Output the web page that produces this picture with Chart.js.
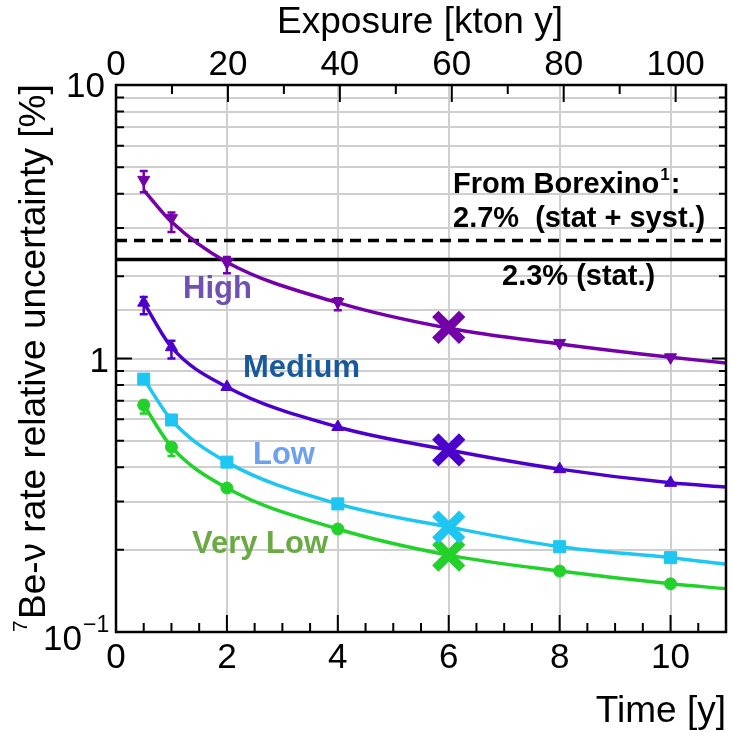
<!DOCTYPE html>
<html><head><meta charset="utf-8">
<script src="https://cdn.jsdelivr.net/npm/chart.js@4.4.1/dist/chart.umd.min.js"></script>
<style>html,body{margin:0;padding:0;background:#fff;}#wrap{width:732px;height:732px;}</style>
</head><body><div id="wrap"><canvas id="c" width="732" height="732"></canvas></div>
<script>
// ---- data ----
const timeYears = [0.5, 1, 2, 4, 8, 10];
const highValues = [4.5, 3.26, 2.25, 1.61, 1.14, 1.01];
const mediumValues = [1.60, 1.10, 0.787, 0.562, 0.394, 0.351];
const lowValues = [0.841, 0.596, 0.418, 0.294, 0.205, 0.187];
const veryLowValues = [0.676, 0.475, 0.336, 0.238, 0.167, 0.150];

const highErrLow = [4.05, 2.90, 2.05, 1.50, null, null];
const highErrHigh = [4.85, 3.42, 2.35, 1.66, null, null];
const mediumErrLow = [1.45, 1.00, null, null, null, null];
const mediumErrHigh = [1.68, 1.16, null, null, null, null];
const veryLowErrLow = [0.63, 0.44, null, null, null, null];
const veryLowErrHigh = [0.70, 0.49, null, null, null, null];

const fitTimes = [0.5, 1, 2, 4, 6, 8, 10, 11];
const highFit = [4.13, 3.16, 2.25, 1.60, 1.29, 1.13, 1.01, 0.963];
const mediumFit = [1.60, 1.10, 0.787, 0.562, 0.463, 0.394, 0.351, 0.339];
const lowFit = [0.841, 0.596, 0.418, 0.294, 0.242, 0.205, 0.187, 0.177];
const veryLowFit = [0.676, 0.475, 0.336, 0.238, 0.191, 0.167, 0.150, 0.144];

const crossTime = [6];
const crossHigh = [1.30];
const crossMedium = [0.463];
const crossLow = [0.242];
const crossVeryLow = [0.191];

const lineSpan = [0, 11];
const borexinoTotal = 2.7;
const borexinoStat = 2.3;

const timeTicks = [0, 2, 4, 6, 8, 10];
const timeTickLabels = ['0', '2', '4', '6', '8', '10'];
const exposureTicks = [0, 20, 40, 60, 80, 100];
const exposureTickLabels = ['0', '20', '40', '60', '80', '100'];

// ---- styling ----
const FONT = '"Liberation Sans", Arial, sans-serif';
const C_HIGH = '#7400a8', C_MED = '#4c00cc', C_LOW = '#1ec6f2', C_VLOW = '#22d22a';

const pts = (xs, ys) => xs.map((x, i) => ({x: x, y: ys[i]}));

const crossStyle = {pointStyle: 'crossRot', pointRadius: 19, pointBorderWidth: 9, showLine: false, order: 1};
const datasets = [
  Object.assign({label: 'X high', data: pts(crossTime, crossHigh), borderColor: C_HIGH}, crossStyle),
  Object.assign({label: 'X med', data: pts(crossTime, crossMedium), borderColor: C_MED}, crossStyle),
  Object.assign({label: 'X low', data: pts(crossTime, crossLow), borderColor: C_LOW}, crossStyle),
  Object.assign({label: 'X vlow', data: pts(crossTime, crossVeryLow), borderColor: C_VLOW}, crossStyle),
  {label: 'High', data: pts(timeYears, highValues), pointStyle: 'triangle', rotation: 180, pointRadius: 7, backgroundColor: C_HIGH, borderColor: C_HIGH, showLine: false, order: 2},
  {label: 'Medium', data: pts(timeYears, mediumValues), pointStyle: 'triangle', pointRadius: 7, backgroundColor: C_MED, borderColor: C_MED, showLine: false, order: 2},
  {label: 'Low', data: pts(timeYears, lowValues), pointStyle: 'rect', pointRadius: 8.5, backgroundColor: C_LOW, borderColor: C_LOW, showLine: false, order: 2},
  {label: 'Very Low', data: pts(timeYears, veryLowValues), pointStyle: 'circle', pointRadius: 6, backgroundColor: C_VLOW, borderColor: C_VLOW, showLine: false, order: 2},
  {label: 'High fit', data: pts(fitTimes, highFit), showLine: true, borderColor: C_HIGH, borderWidth: 3.5, pointRadius: 0, cubicInterpolationMode: 'monotone', order: 3},
  {label: 'Medium fit', data: pts(fitTimes, mediumFit), showLine: true, borderColor: C_MED, borderWidth: 3.5, pointRadius: 0, cubicInterpolationMode: 'monotone', order: 3},
  {label: 'Low fit', data: pts(fitTimes, lowFit), showLine: true, borderColor: C_LOW, borderWidth: 3.5, pointRadius: 0, cubicInterpolationMode: 'monotone', order: 3},
  {label: 'Very Low fit', data: pts(fitTimes, veryLowFit), showLine: true, borderColor: C_VLOW, borderWidth: 3.5, pointRadius: 0, cubicInterpolationMode: 'monotone', order: 3},
  {label: 'Borexino total', data: pts(lineSpan, [borexinoTotal, borexinoTotal]), showLine: true, borderColor: '#000', borderWidth: 3.5, borderDash: [11, 7], pointRadius: 0, order: 4},
  {label: 'Borexino stat', data: pts(lineSpan, [borexinoStat, borexinoStat]), showLine: true, borderColor: '#000', borderWidth: 3.5, pointRadius: 0, order: 4}
];

const errorBars = [
  {lo: highErrLow, hi: highErrHigh, color: C_HIGH},
  {lo: mediumErrLow, hi: mediumErrHigh, color: C_MED},
  {lo: veryLowErrLow, hi: veryLowErrHigh, color: C_VLOW}
];

const deco = {
  id: 'deco',
  afterDatasetsDraw(chart) {
    const ctx = chart.ctx, xs = chart.scales.x, ys = chart.scales.y;
    ctx.save();
    ctx.lineWidth = 2.5;
    errorBars.forEach(eb => {
      ctx.strokeStyle = eb.color;
      timeYears.forEach((t, i) => {
        if (eb.lo[i] == null) return;
        const px = xs.getPixelForValue(t);
        const y1 = ys.getPixelForValue(eb.lo[i]), y2 = ys.getPixelForValue(eb.hi[i]);
        ctx.beginPath();
        ctx.moveTo(px, y1); ctx.lineTo(px, y2);
        ctx.moveTo(px - 4, y1); ctx.lineTo(px + 4, y1);
        ctx.moveTo(px - 4, y2); ctx.lineTo(px + 4, y2);
        ctx.stroke();
      });
    });
    ctx.restore();
  },
  afterDraw(chart) {
    const ctx = chart.ctx, a = chart.chartArea;
    const xs = chart.scales.x, x2 = chart.scales.x2, ys = chart.scales.y;
    ctx.save();
    // inward ticks
    ctx.strokeStyle = '#000'; ctx.lineWidth = 2;
    ctx.beginPath();
    for (let i = 0; i <= 22; i++) {
      const px = xs.getPixelForValue(i * 0.5);
      const len = (i % 4 === 0) ? 17 : 9;
      ctx.moveTo(px, a.bottom); ctx.lineTo(px, a.bottom - len);
    }
    for (let e = 0; e <= 100; e += 10) {
      const px = x2.getPixelForValue(e);
      const len = (e % 20 === 0) ? 17 : 9;
      ctx.moveTo(px, a.top); ctx.lineTo(px, a.top + len);
    }
    [0.1, 1].forEach(d => {
      for (let k = 1; k <= 9; k++) {
        const py = ys.getPixelForValue(k * d);
        ctx.moveTo(a.left, py); ctx.lineTo(a.left + (k === 1 ? 16 : 8), py);
        ctx.moveTo(a.right, py); ctx.lineTo(a.right - (k === 1 ? 14 : 7), py);
      }
    });
    ctx.stroke();
    // frame
    ctx.lineWidth = 2.5;
    ctx.strokeRect(a.left, a.top, a.right - a.left, a.bottom - a.top);

    // tick labels
    ctx.fillStyle = '#000';
    ctx.font = '35px ' + FONT;
    ctx.textBaseline = 'alphabetic';
    ctx.textAlign = 'center';
    timeTicks.forEach((v, i) => ctx.fillText(timeTickLabels[i], xs.getPixelForValue(v), 668));
    exposureTicks.forEach((v, i) => ctx.fillText(exposureTickLabels[i], x2.getPixelForValue(v), 75));
    ctx.textAlign = 'right';
    ctx.fillText('10', 105, ys.getPixelForValue(10) + 12);
    ctx.fillText('1', 109, ys.getPixelForValue(1) + 13);
    ctx.fillText('10', 82, 650);
    ctx.textAlign = 'left';
    ctx.font = '23px ' + FONT;
    ctx.fillText('\u22121', 83, 632);

    // axis titles
    ctx.font = '37px ' + FONT;
    ctx.textAlign = 'center';
    ctx.fillText('Exposure [kton y]', 420, 33);
    ctx.textAlign = 'right';
    ctx.fillText('Time [y]', 726, 722);
    ctx.save();
    ctx.translate(45, 632);
    ctx.rotate(-Math.PI / 2);
    ctx.textAlign = 'left';
    ctx.font = '21px ' + FONT;
    ctx.fillText('7', 0, -18);
    ctx.font = '37px ' + FONT;
    ctx.fillText('Be-\u03bd rate relative uncertainty [%]', 13, 0);
    ctx.restore();

    // Borexino annotations
    ctx.textAlign = 'left';
    ctx.font = 'bold 29px ' + FONT;
    let x = 453;
    ctx.fillText('From Borexino', x, 193);
    x += ctx.measureText('From Borexino').width + 1;
    ctx.font = 'bold 17px ' + FONT;
    ctx.fillText('1', x, 180);
    x += ctx.measureText('1').width + 1;
    ctx.font = 'bold 29px ' + FONT;
    ctx.fillText(':', x, 193);
    ctx.fillText('2.7%  (stat + syst.)', 453, 227);
    ctx.fillText('2.3% (stat.)', 502, 285);

    // series labels
    ctx.font = 'bold 31px ' + FONT;
    ctx.fillStyle = '#7050b0'; ctx.fillText('High', 183, 298);
    ctx.fillStyle = '#1a5a9c'; ctx.fillText('Medium', 243, 377);
    ctx.fillStyle = '#6ea0ee'; ctx.fillText('Low', 253, 464);
    ctx.fillStyle = '#6aaa45'; ctx.fillText('Very Low', 192, 553);
    ctx.restore();
  }
};

new Chart(document.getElementById('c'), {
  type: 'scatter',
  data: {datasets: datasets},
  plugins: [deco],
  options: {
    responsive: false,
    animation: false,
    devicePixelRatio: 1,
    layout: {autoPadding: false, padding: {left: 116, top: 85, right: 6, bottom: 100}},
    plugins: {legend: {display: false}, tooltip: {enabled: false}},
    scales: {
      x: {
        type: 'linear', position: 'bottom', min: 0, max: 11,
        ticks: {display: false, stepSize: 2},
        grid: {color: '#cfcfcf', lineWidth: 2, drawTicks: false},
        border: {display: false}
      },
      x2: {
        type: 'linear', position: 'top', min: 0, max: 109,
        ticks: {display: false},
        grid: {display: false, drawTicks: false},
        border: {display: false}
      },
      y: {
        type: 'logarithmic', min: 0.1, max: 10,
        ticks: {display: false},
        grid: {color: '#cfcfcf', lineWidth: 2, drawTicks: false},
        border: {display: false}
      }
    }
  }
});
</script>
</body></html>
